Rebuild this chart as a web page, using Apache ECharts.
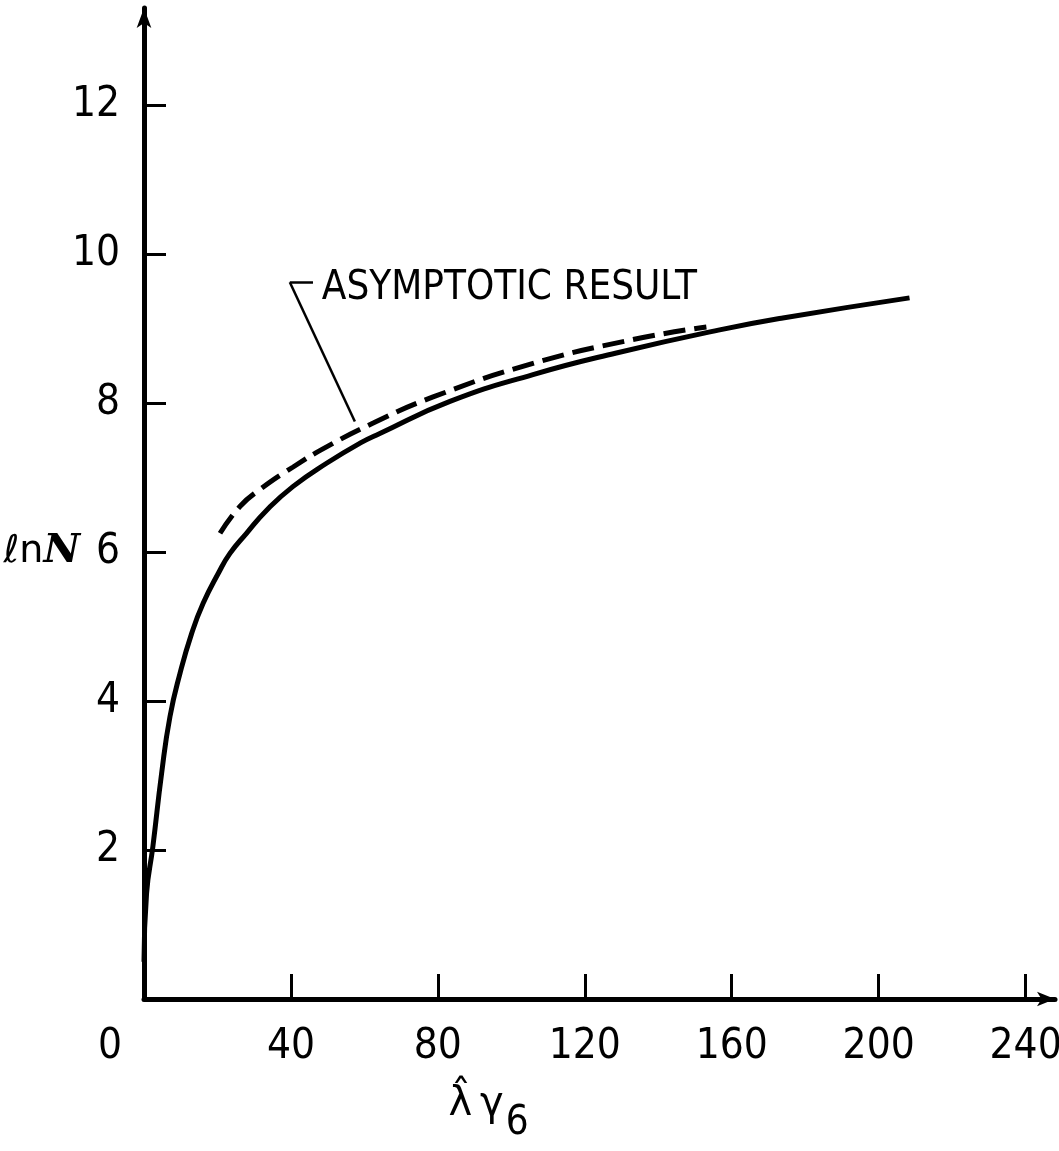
<!DOCTYPE html>
<html>
<head>
<meta charset="utf-8">
<script src="https://cdn.jsdelivr.net/npm/echarts@6/dist/echarts.min.js"></script>
<style>
  html, body { margin: 0; padding: 0; background: #fff; }
  #chart { width: 1059px; height: 1151px; }
</style>
</head>
<body>
<div id="chart"></div>
<script>
// data: [lambda*gamma6, ln N]
var exactCurve = [
    [0, 0.5], [0.7, 1.42], [2.4, 2.04], [4.8, 3.03], [7.07, 3.79], [9.8, 4.37],
    [13.0, 4.91], [16.1, 5.31], [20.2, 5.71], [23.4, 5.98], [27.9, 6.25],
    [33.4, 6.56], [40.6, 6.88], [49.7, 7.19], [58.8, 7.46], [64.2, 7.59],
    [83.3, 8.02], [105.9, 8.38], [128.6, 8.67], [156.7, 8.98], [173.9, 9.14],
    [208.4, 9.41]
];
var asymptoticCurve = [
    [20.7, 6.25], [26.1, 6.61], [31.6, 6.84], [40.6, 7.14], [49.7, 7.41],
    [62.4, 7.73], [78.7, 8.08], [105.9, 8.53], [133.1, 8.85], [153.1, 9.02]
];
var xTicks = [0, 40, 80, 120, 160, 200, 240];
var yTicks = [2, 4, 6, 8, 10, 12];
var noteText = 'ASYMPTOTIC RESULT';
// leader line of the note, in data units
var leaderCorner = [39.7, 9.62];
var leaderTextEnd = [46.0, 9.62];
var leaderTip = [57.4, 7.75];
var notePos = [48.4, 9.54];

var font = '"Liberation Sans Narrow", "DejaVu Sans Condensed", sans-serif';

var chart = echarts.init(document.getElementById('chart'));

var option = {
    backgroundColor: '#fff',
    animation: false,
    grid: {left: 144, right: 4, top: 8, bottom: 152, outerBoundsMode: 'none', containLabel: false},
    xAxis: {
        type: 'value',
        min: 0,
        max: 248,
        splitLine: {show: false},
        axisLine: {
            onZero: false,
            symbol: ['none', 'arrow'],
            symbolSize: [11, 18],
            lineStyle: {color: '#000', width: 5}
        },
        axisTick: {
            inside: true,
            length: 25,
            customValues: xTicks.slice(1),
            lineStyle: {color: '#000', width: 3}
        },
        axisLabel: {
            customValues: xTicks,
            margin: 27,
            color: '#000',
            fontFamily: font,
            fontSize: 42,
            formatter: function (v) {
                if (v === 0) return '{z|0}';
                return v;
            },
            rich: {
                z: {fontFamily: font, fontSize: 42, color: '#000', padding: [0, 68, 0, 0]}
            }
        },
        name: '{lam|λ̂}{gam|γ}{sub|6}',
        nameLocation: 'middle',
        nameGap: 67,
        nameTextStyle: {
            padding: [0, 222, 0, 0],
            rich: {
                lam: {fontFamily: 'DejaVu Sans', fontSize: 40, color: '#000'},
                gam: {fontFamily: 'DejaVu Sans', fontSize: 40, color: '#000', padding: [0, 0, 0, 8]},
                sub: {fontFamily: font, fontSize: 40, color: '#000', padding: [38, 0, 0, 2]}
            }
        }
    },
    yAxis: {
        type: 'value',
        min: 0,
        max: 13.3,
        splitLine: {show: false},
        axisLine: {
            onZero: false,
            symbol: ['none', 'arrow'],
            symbolSize: [11, 20],
            lineStyle: {color: '#000', width: 5}
        },
        axisTick: {
            inside: true,
            length: 22,
            customValues: yTicks,
            lineStyle: {color: '#000', width: 3}
        },
        axisLabel: {
            customValues: yTicks,
            margin: 24,
            color: '#000',
            fontFamily: font,
            fontSize: 42,
            formatter: function (v) {
                // the axis name sits on the same row as 6
                if (v === 6) return '{nm|ℓn}{nn|N}{sp|}6';
                return v;
            },
            rich: {
                nm: {fontFamily: 'DejaVu Sans', fontSize: 38, color: '#000'},
                nn: {fontFamily: 'DejaVu Serif', fontStyle: 'italic', fontWeight: 'bold', fontSize: 40, color: '#000'},
                sp: {width: 16}
            }
        }
    },
    series: [
        {
            name: 'exact',
            type: 'line',
            data: exactCurve,
            smooth: 0.5,
            symbol: 'none',
            lineStyle: {color: '#000', width: 5}
        },
        {
            name: 'asymptotic',
            type: 'line',
            data: asymptoticCurve,
            smooth: 0.5,
            symbol: 'none',
            lineStyle: {color: '#000', width: 5, type: [22, 9], cap: 'butt'},
            markLine: {
                silent: true,
                symbol: 'none',
                label: {show: false},
                lineStyle: {color: '#000', width: 2.5, type: 'solid'},
                data: [
                    [{coord: leaderCorner}, {coord: leaderTextEnd}],
                    [{coord: leaderCorner}, {coord: leaderTip}]
                ]
            },
            markPoint: {
                silent: true,
                symbol: 'circle',
                symbolSize: 0,
                data: [{coord: notePos}],
                label: {
                    show: true,
                    position: 'right',
                    distance: 0,
                    formatter: noteText,
                    color: '#000',
                    fontFamily: font,
                    fontSize: 40
                }
            }
        }
    ]
};

chart.setOption(option);
</script>
</body>
</html>
